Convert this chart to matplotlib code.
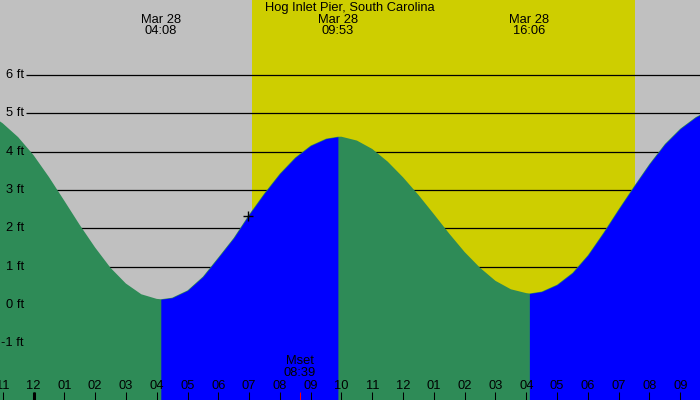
import matplotlib
matplotlib.use('Agg')
import numpy as np
import matplotlib.pyplot as plt
import matplotlib.transforms as mtransforms

title = 'Hog Inlet Pier, South Carolina'

# tide height [ft], hours after midnight Mar 28
hours = [-1.09, -1.0, -0.5, 0.0, 0.5, 1.0, 1.5, 2.0, 2.5, 3.0, 3.5, 4.0, 4.133,
         4.5, 5.0, 5.5, 6.0, 6.5, 7.0, 7.5, 8.0, 8.5, 9.0, 9.5, 9.883,
         10.0, 10.5, 11.0, 11.5, 12.0, 12.5, 13.0, 13.5, 14.0, 14.5, 15.0, 15.5, 16.0, 16.1,
         16.5, 17.0, 17.5, 18.0, 18.5, 19.0, 19.5, 20.0, 20.5, 21.0, 21.5, 21.64]
heights = [4.79, 4.74, 4.38, 3.91, 3.34, 2.72, 2.09, 1.50, 0.97, 0.56, 0.28, 0.16, 0.15,
           0.19, 0.38, 0.74, 1.24, 1.75, 2.36, 2.92, 3.43, 3.85, 4.16, 4.34, 4.39,
           4.39, 4.29, 4.07, 3.74, 3.33, 2.87, 2.37, 1.86, 1.38, 0.97, 0.63, 0.41, 0.31, 0.30,
           0.35, 0.53, 0.84, 1.30, 1.88, 2.50, 3.10, 3.68, 4.20, 4.60, 4.90, 4.96]

# high / low tide events
event_hours = [4.133, 9.883, 16.1]
event_dates = ['Mar 28', 'Mar 28', 'Mar 28']
event_times = ['04:08', '09:53', '16:06']

sunrise = 7.09
sunset = 19.53
moonset = 8.65
moonset_text = ['Mset', '08:39']

now_hour = 6.96
now_height = 2.33

tick_hours = list(range(-1, 22))
tick_labels = ['11', '12', '01', '02', '03', '04', '05', '06', '07', '08', '09', '10',
               '11', '12', '01', '02', '03', '04', '05', '06', '07', '08', '09']
grid_ft = [-1, 0, 1, 2, 3, 4, 5, 6]

night = '#c0c0c0'
day = '#cece00'
falling = '#2e8b57'
rising = '#0000ff'

plt.rc('font', family=['Liberation Sans', 'DejaVu Sans'], size=9.3)

xmin, xmax = -1.088, 21.64
ymin, ymax = -2.478, 7.957

fig = plt.figure(figsize=(7, 4), dpi=100)
fig.patch.set_facecolor(night)
ax = fig.add_axes([0, 0, 1, 1])
ax.set_xlim(xmin, xmax)
ax.set_ylim(ymin, ymax)
ax.axis('off')
ax.axvspan(sunrise, sunset, color=day, lw=0, zorder=0)

ax.hlines(grid_ft, -0.244, xmax, color='black', lw=0.9, zorder=1)
for g in grid_ft:
  ax.text(-0.31, g, '{:d} ft'.format(g), ha='right', va='center', zorder=4)

h = np.array(hours)
v = np.array(heights)
# whole area green first, rising stretches laid over in blue
ax.fill_between(h, v, ymin, color=falling, lw=0, zorder=2)
bounds = [hours[0]] + event_hours + [hours[-1]]
for a, b in zip(bounds[:-1], bounds[1:]):
  m = (h >= a - 1e-6) & (h <= b + 1e-6)
  if v[m][-1] > v[m][0]:
    ax.fill_between(h[m], v[m], ymin, color=rising, lw=0, zorder=3)

ax.plot(now_hour, now_height, marker='+', color='black', ms=7, mew=1, zorder=5)

trans = mtransforms.blended_transform_factory(ax.transData, ax.transAxes)
tlen = 8 / 400
ax.vlines(tick_hours, 0, tlen, color='black', lw=0.75, transform=trans, zorder=4)
ax.vlines([0], 0, tlen, color='black', lw=2.2, transform=trans, zorder=4)
ax.vlines([moonset], 0, tlen, color='red', lw=0.75, transform=trans, zorder=4)
for th, lbl in zip(tick_hours, tick_labels):
  ax.text(th, 1 - 386 / 400, lbl, ha='center', va='center', transform=trans, zorder=4)
ax.text(moonset, 1 - 361.5 / 400, moonset_text[0], ha='center', va='center', transform=trans, zorder=4)
ax.text(moonset, 1 - 373.5 / 400, moonset_text[1], ha='center', va='center', transform=trans, zorder=4)

ax.text(0.5 * (xmin + xmax), 1 - 7.5 / 400, title, ha='center', va='center', transform=trans, zorder=4)
for eh, d, t in zip(event_hours, event_dates, event_times):
  ax.text(eh, 1 - 20 / 400, d, ha='center', va='center', transform=trans, zorder=4)
  ax.text(eh, 1 - 31.5 / 400, t, ha='center', va='center', transform=trans, zorder=4)

fig.savefig('out.png', dpi=100, facecolor=fig.get_facecolor())
plt.close()
